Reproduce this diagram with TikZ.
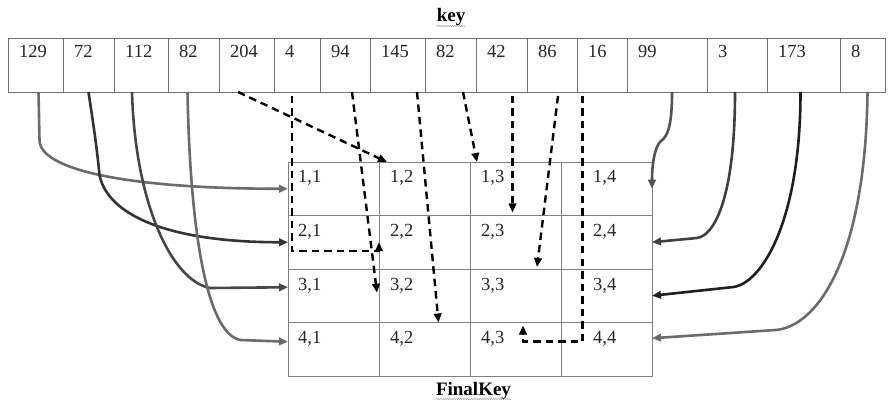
\documentclass[tikz,border=0pt]{standalone}
\usepackage{fontspec}
\setmainfont{Liberation Serif}
\usetikzlibrary{arrows.meta,decorations.pathmorphing}
\begin{document}
\begin{tikzpicture}[x=1pt,y=-1pt,
  keycell/.style={draw=black!55, line width=0.9pt, minimum height=54pt,
    anchor=north west, inner sep=0pt, outer sep=0pt},
  gridcell/.style={draw=black!50, line width=0.9pt, minimum width=91pt,
    minimum height=53.5pt, anchor=north west, inner sep=0pt, outer sep=0pt},
  celltext/.style={font=\fontsize{18.5}{22}\selectfont, text=black!85,
    inner sep=0pt, anchor=base west},
  heading/.style={font=\fontsize{19}{22}\selectfont\bfseries, inner sep=0pt, anchor=base},
  squiggle/.style={draw=black!40, line width=0.5pt, decorate,
    decoration={snake, amplitude=0.5pt, segment length=2.2pt}},
  headtip/.style={-{Triangle[length=9pt,width=7.5pt]}},
  solidlink/.style={headtip, line width=2.6pt},
  dashlink/.style={headtip, line width=2.4pt, draw=black, dash pattern=on 7.5pt off 5pt},
]
\useasboundingbox[fill=white] (0,0) rectangle (888,403);

% heading of the key row
\node[heading] (tkey) at (451,22) {key};
\draw[squiggle] ([yshift=-4pt]tkey.base west) -- ([yshift=-4pt]tkey.base east);

% key row
\foreach \l/\r/\t [count=\i] in {8/63/129, 63/114/72, 114/168/112, 168/219/82,
    219/274/204, 274/320/4, 320/370/94, 370/425/145, 425/476/82, 476/527/42,
    527/577/86, 577/627/16, 627/707/99, 707/767/3, 767/840/173, 840/885/8} {
  \node[keycell, minimum width=\r-\l] (k\i) at (\l,38) {};
  \node[celltext] (kt\i) at ([xshift=11pt,yshift=-20pt]k\i.north west) {\t};
}

% 4x4 grid
\foreach \r in {1,...,4} {
  \foreach \c in {1,...,4} {
    \node[gridcell] (c\r\c) at ({288+91*(\c-1)},{162+53.5*(\r-1)}) {};
  }
  \foreach \c/\dx in {1/10,2/11,3/11,4/32} {
    \node[celltext] (ct\r\c) at ([xshift=\dx pt,yshift=-21pt]c\r\c.north west) {\r,\c};
  }
}

% heading of the grid
\node[heading] (tfinal) at (473.5,395) {FinalKey};
\draw[squiggle] ([yshift=-4pt]tfinal.base west) -- ([yshift=-4pt]tfinal.base east);

% solid connectors, left side
\draw[solidlink, draw=black!58] ([xshift=3pt]k1.south) -- ++(1,48)
  .. controls +(0,30) and +(-160,0) .. (c11.west);
\draw[solidlink, draw=black!80] (k2.south) .. controls +(6,40) and +(-3,-30) .. ++(11,83)
  .. controls +(8,40) and +(-120,0) .. (c21.west);
\draw[solidlink, draw=black!72] ([xshift=-9pt]k3.south)
  .. controls +(3,108) and +(-40,-8) .. ++(78,196) -- ([yshift=8.5pt]c31.west);
\draw[solidlink, draw=black!58] ([xshift=-6pt]k4.south)
  .. controls +(3,158) and +(-30,-5) .. ++(53,248) -- ([yshift=7.5pt]c41.west);

% solid connectors, right side
\draw[solidlink, draw=black!68] ([xshift=5pt]k13.south)
  .. controls +(0,33) and +(7,-5) .. ++(-11,49)
  .. controls +(-5,4) and +(0,-29) .. (c14.east);
\draw[solidlink, draw=black!75] ([xshift=-2pt]k14.south)
  .. controls +(0,110) and +(16,-2) .. ++(-38,146) -- (c24.east);
\draw[solidlink, draw=black!88] ([xshift=-3pt]k15.south)
  .. controls +(0,130) and +(28,-4) .. ++(-67,195) -- (c34.east);
\draw[solidlink, draw=black!58] ([xshift=5pt]k16.south)
  .. controls +(-2,170) and +(40,-3) .. ++(-92,238) -- ([yshift=11pt]c44.east);

% dashed connectors
\draw[dashlink] ([xshift=-8.5pt]k5.south) -- ([xshift=8pt]c12.north west);
\draw[dashlink] ([xshift=-5pt,yshift=-4pt]k6.south) |- ([yshift=-9pt]c22.west) -- (c22.west);
\draw[dashlink] ([xshift=7pt]k7.south) -- ([xshift=-2pt,yshift=3pt]c32.west);
\draw[dashlink] ([xshift=19.5pt]k8.south) -- ([xshift=14pt]c42.north);
\draw[dashlink] ([xshift=12.5pt]k9.south) -- ([xshift=7pt]c13.north west);
\draw[dashlink] ([xshift=11pt,yshift=-4pt]k10.south) -- ([xshift=42.5pt,yshift=3pt]c13.south west);
\draw[dashlink] ([xshift=6pt,yshift=-4pt]k11.south) -- ([xshift=-24pt,yshift=2pt]c23.south east);
\draw[dashlink] ([xshift=-19.5pt,yshift=-4pt]k12.south)
  |- ([xshift=53pt,yshift=-19pt]c43.north west) -- ([xshift=53pt,yshift=-3pt]c43.north west);
\end{tikzpicture}
\end{document}
